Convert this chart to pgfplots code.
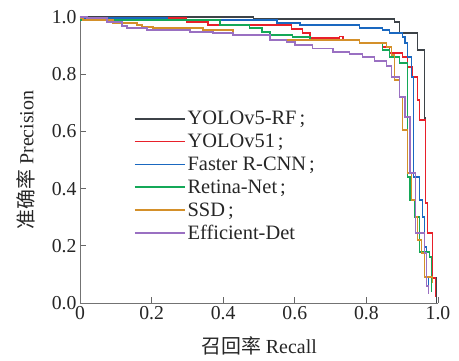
\documentclass[border=0pt]{standalone}
\usepackage{fontspec}
\setmainfont{Liberation Serif}
\newfontfamily\cjk{Noto Sans CJK SC}
\usepackage{pgfplots}
\pgfplotsset{compat=1.18}
\definecolor{cGray}{HTML}{3D4348}
\definecolor{cRed}{HTML}{E8202A}
\definecolor{cBlue}{HTML}{1A68C0}
\definecolor{cGreen}{HTML}{14A858}
\definecolor{cOrange}{HTML}{D4902A}
\definecolor{cPurple}{HTML}{9A70C2}
\begin{document}
\begin{tikzpicture}
\begin{axis}[
  scale only axis, width=358bp, height=286bp,
  xmin=0, xmax=1, ymin=0, ymax=1,
  axis x line*=bottom, axis y line*=left,
  axis line style={-, draw=black!55, line width=1pt},
  tick align=inside, major tick length=6bp,
  tick style={draw=black!60, line width=0.8pt},
  xtick={0,0.2,0.4,0.6,0.8,1}, xticklabels={0,0.2,0.4,0.6,0.8,1.0},
  ytick={0,0.2,0.4,0.6,0.8,1}, yticklabels={0.0,0.2,0.4,0.6,0.8,1.0},
  ticklabel style={font=\fontsize{19.8}{21}\selectfont, text=black!85},
  xlabel={{\cjk 召回率} Recall},
  ylabel={{\cjk 准确率} Precision},
  xlabel shift=10bp, ylabel shift=10bp,
  label style={font=\fontsize{20}{22}\selectfont, text=black!85},
  clip=false,
  every axis plot/.append style={line width=1.6pt, const plot},
  legend style={at={(axis cs:0.142,0.685)}, anchor=north west, draw=none, fill=none,
    font=\fontsize{20.5}{22}\selectfont, row sep=3.8bp, cells={anchor=west}, text=black!85},
  legend image code/.code={\draw[#1, line width=1.6pt] (0bp,0bp) -- (45bp,0bp); \path (0bp,0bp) -- (50bp,0bp);},
]
\addplot[cGray] coordinates {(0,1.0) (0.485,0.993) (0.879,0.983) (0.893,0.944) (0.943,0.885) (0.962,0.647) (0.965,0.35) (0.971,0.245) (0.985,0.087) (0.996,0.0)};
\addlegendentry{YOLOv5-RF\hspace{3bp};}
\addplot[cRed] coordinates {(0,0.997) (0.298,0.983) (0.357,0.972) (0.591,0.958) (0.622,0.944) (0.642,0.927) (0.725,0.932) (0.734,0.92) (0.781,0.909) (0.845,0.895) (0.865,0.874) (0.901,0.86) (0.915,0.825) (0.929,0.79) (0.943,0.71) (0.948,0.64) (0.965,0.35) (0.971,0.245) (0.985,0.087) (0.993,0.02)};
\addlegendentry{YOLOv51\hspace{3bp};}
\addplot[cBlue] coordinates {(0,0.997) (0.243,0.99) (0.55,0.979) (0.614,0.972) (0.781,0.962) (0.845,0.955) (0.865,0.944) (0.901,0.93) (0.907,0.91) (0.915,0.86) (0.926,0.79) (0.932,0.44) (0.948,0.36) (0.957,0.30) (0.962,0.196) (0.968,0.09) (0.974,0.035)};
\addlegendentry{Faster R-CNN\hspace{3bp};}
\addplot[cGreen] coordinates {(0,0.99) (0.391,0.972) (0.474,0.962) (0.508,0.948) (0.53,0.937) (0.594,0.93) (0.642,0.92) (0.781,0.909) (0.845,0.885) (0.865,0.86) (0.893,0.839) (0.915,0.44) (0.921,0.36) (0.934,0.30) (0.948,0.178) (0.976,0.16) (0.982,0.04)};
\addlegendentry{Retina-Net\hspace{3bp};}
\addplot[cOrange] coordinates {(0,0.997) (0.008,0.99) (0.092,0.979) (0.159,0.972) (0.173,0.965) (0.204,0.962) (0.343,0.955) (0.427,0.937) (0.53,0.92) (0.781,0.909) (0.856,0.895) (0.87,0.867) (0.879,0.78) (0.893,0.72) (0.901,0.605) (0.915,0.455) (0.926,0.36) (0.937,0.30) (0.943,0.22) (0.954,0.175) (0.962,0.091) (0.985,0.07)};
\addlegendentry{SSD\hspace{3bp};}
\addplot[cPurple] coordinates {(0,1.0) (0.02,0.997) (0.075,0.983) (0.117,0.969) (0.131,0.962) (0.187,0.955) (0.307,0.948) (0.371,0.944) (0.427,0.937) (0.53,0.92) (0.577,0.913) (0.6,0.902) (0.65,0.89) (0.706,0.878) (0.753,0.871) (0.789,0.86) (0.823,0.846) (0.856,0.829) (0.87,0.79) (0.893,0.72) (0.907,0.65) (0.921,0.455) (0.937,0.245) (0.962,0.175) (0.968,0.06) (0.974,0.03)};
\addlegendentry{Efficient-Det}
\end{axis}
\path ([xshift=-80bp,yshift=-58bp]current axis.south west) rectangle ([xshift=21bp,yshift=17bp]current axis.north east);
\end{tikzpicture}
\end{document}
